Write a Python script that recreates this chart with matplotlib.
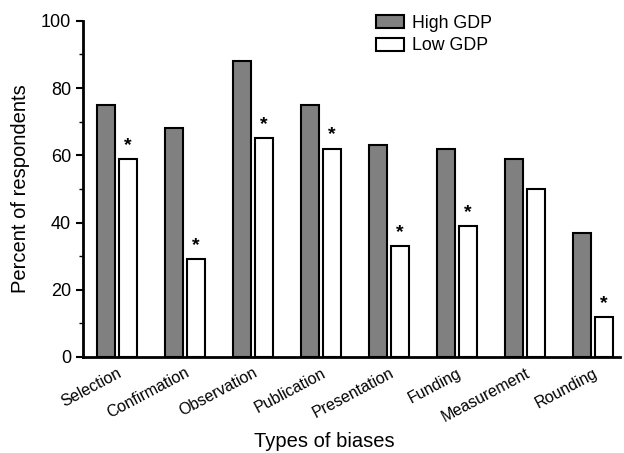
import numpy as np
import matplotlib
matplotlib.use("Agg")
import matplotlib.pyplot as plt
from matplotlib.ticker import MultipleLocator

plt.rcParams['font.family'] = ['Liberation Sans', 'DejaVu Sans']

# data
categories = ["Selection", "Confirmation", "Observation", "Publication",
              "Presentation", "Funding", "Measurement", "Rounding"]
high_gdp = [75, 68, 88, 75, 63, 62, 59, 37]
low_gdp = [59, 29, 65, 62, 33, 39, 50, 12]
significant = [True, True, True, True, True, True, False, True]

x = np.arange(len(categories))
w = 0.265
off = 0.165

fig = plt.figure(figsize=(6.24, 4.53), dpi=100)
ax = fig.add_axes([0.133, 0.212, 0.861, 0.742])

ax.bar(x - off, high_gdp, w, color="#808080", edgecolor="black",
       linewidth=1.5, label="High GDP")
ax.bar(x + off, low_gdp, w, color="white", edgecolor="black",
       linewidth=1.5, label="Low GDP")

for xi, v, s in zip(x, low_gdp, significant):
    if s:
        ax.text(xi + off, v + 1.5, "*", ha="center", va="bottom",
                fontsize=14, fontweight="bold")

ax.set_xlim(-0.5, 7.4)
ax.set_ylim(0, 100)
ax.yaxis.set_major_locator(MultipleLocator(20))
ax.yaxis.set_minor_locator(MultipleLocator(10))
ax.tick_params(axis="y", which="major", direction="out", length=5,
               width=1.5, labelsize=13)
ax.tick_params(axis="y", which="minor", direction="out", length=3, width=1)
ax.set_xticks(x)
ax.set_xticklabels(categories, rotation=28, ha="right",
                   rotation_mode="anchor", fontsize=11.5)
ax.tick_params(axis="x", length=0, pad=6)

for side in ("top", "right"):
    ax.spines[side].set_visible(False)
for side in ("left", "bottom"):
    ax.spines[side].set_linewidth(2)

ax.set_ylabel("Percent of respondents", fontsize=14.5, labelpad=8)
ax.set_xlabel("Types of biases", fontsize=14.5)
ax.xaxis.set_label_coords(0.449, -0.222)

fig.legend(*ax.get_legend_handles_labels(), loc="upper left",
           bbox_to_anchor=(376 / 624, 1 - 15 / 453),
           bbox_transform=fig.transFigure, frameon=False,
           fontsize=12.8, handlelength=1.55, handleheight=0.75,
           handletextpad=0.5, labelspacing=0.3, borderpad=0,
           borderaxespad=0)

fig.savefig("out.png", dpi=100)
